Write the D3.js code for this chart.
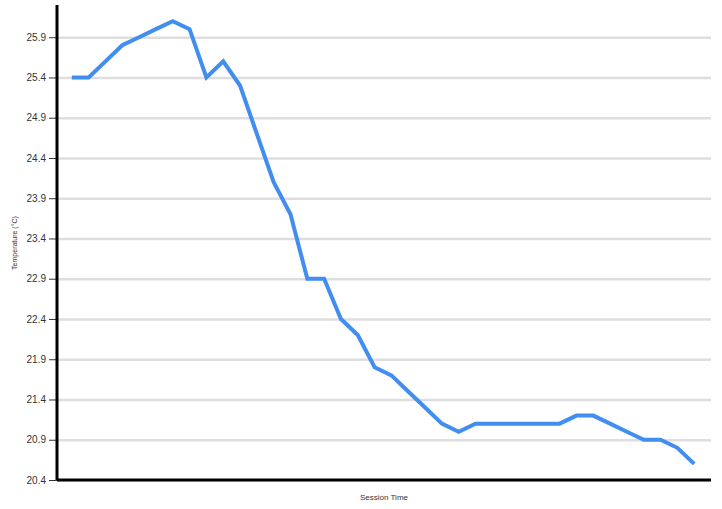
<!DOCTYPE html>
<html>
<head>
<meta charset="utf-8">
<script src="https://cdn.jsdelivr.net/npm/d3@7"></script>
<style>
    body { margin: 0; background: #fff; font-family: Arial, "Liberation Sans", sans-serif; }
    .grid line { stroke: #dedede; stroke-width: 2.5; }
    .grid path { display: none; }
    #y-axis text { font-size: 10px; fill: #333; }
    #y-axis line { stroke: #333; }
</style>
</head>
<body>
<div class="container"></div>
<script>
// session readings, one per step
const sessions = d3.range(38)
const temps = [25.4, 25.4, 25.6, 25.8, 25.9, 26.0, 26.1, 26.0, 25.4, 25.6,
    25.3, 24.7, 24.1, 23.7, 22.9, 22.9, 22.4, 22.2, 21.8, 21.7,
    21.5, 21.3, 21.1, 21.0, 21.1, 21.1, 21.1, 21.1, 21.1, 21.1,
    21.2, 21.2, 21.1, 21.0, 20.9, 20.9, 20.8, 20.6]
const yTicks = [20.4, 20.9, 21.4, 21.9, 22.4, 22.9, 23.4, 23.9, 24.4, 24.9, 25.4, 25.9]

const w = 722
const h = 509
const margin = { left: 57, right: 711, top: 5, bottom: 480 }

const xScale = d3.scalePoint()
    .domain(sessions)
    .range([margin.left - 2, margin.right])
    .padding(1)

const yScale = d3.scaleLinear()
    .domain([d3.min(temps) - 0.2, d3.max(temps) + 0.2])
    .range([margin.bottom, margin.top])

const svg = d3.select(".container")
    .append("svg")
    .attr("width", w)
    .attr("height", h)

// grid
svg.append("g")
    .attr("class", "grid")
    .attr("transform", "translate(" + margin.left + ",0)")
    .call(d3.axisRight(yScale).tickValues(yTicks).tickSize(margin.right - margin.left).tickFormat(""))

// y axis
svg.append("g")
    .attr("id", "y-axis")
    .attr("transform", "translate(" + margin.left + ",0)")
    .call(d3.axisLeft(yScale).tickValues(yTicks).tickSize(8).tickPadding(3).tickFormat(d3.format(".1f")))
    .call(g => g.select(".domain").remove())

svg.append("line")
    .attr("x1", margin.left).attr("x2", margin.left)
    .attr("y1", margin.top).attr("y2", margin.bottom)
    .attr("stroke", "#000").attr("stroke-width", 3)

svg.append("line")
    .attr("x1", margin.left).attr("x2", margin.right)
    .attr("y1", margin.bottom).attr("y2", margin.bottom)
    .attr("stroke", "#000").attr("stroke-width", 3)

const line = d3.line()
    .x((d, i) => xScale(sessions[i]))
    .y(d => yScale(d))

svg.append("path")
    .datum(temps)
    .attr("d", line)
    .attr("fill", "none")
    .attr("stroke", "#428ef0")
    .attr("stroke-width", 4)
    .attr("stroke-linejoin", "miter")

svg.append("text")
    .attr("x", (margin.left + margin.right) / 2)
    .attr("y", 500)
    .style("text-anchor", "middle")
    .style("font-size", "8px")
    .style("fill", "#333")
    .text("Session Time")

svg.append("text")
    .attr("transform", "rotate(-90)")
    .attr("x", -243)
    .attr("y", 17)
    .style("text-anchor", "middle")
    .style("font-size", "7px")
    .style("fill", "#333")
    .text("Temperature (°C)")
</script>
</body>
</html>
